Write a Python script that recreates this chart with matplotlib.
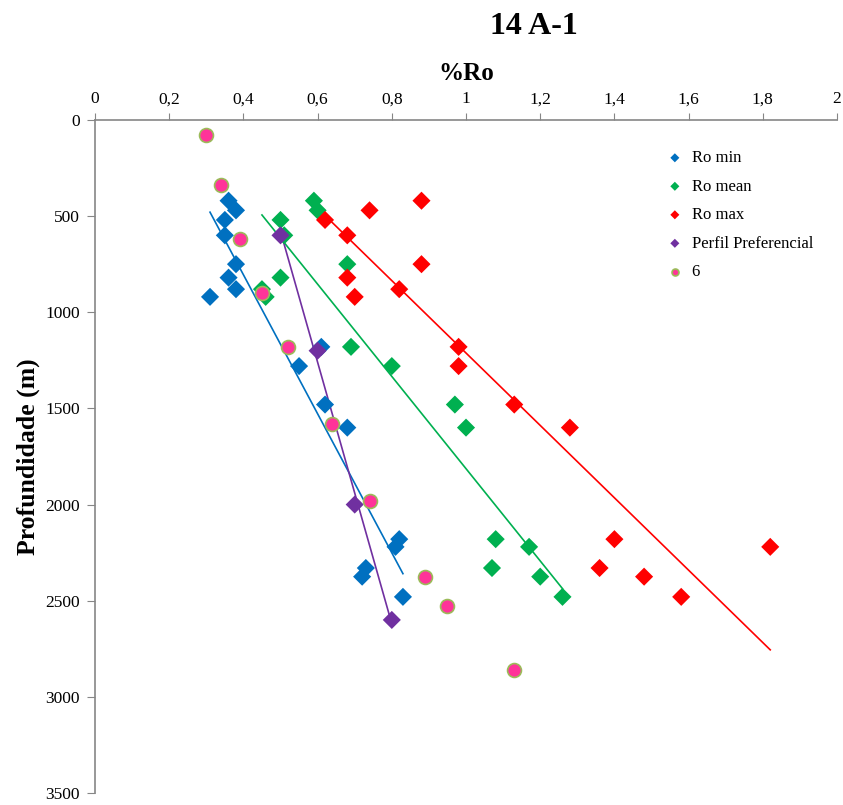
import numpy as np
import matplotlib
matplotlib.use("Agg")
import matplotlib.pyplot as plt

plt.rcParams['font.family'] = ['Liberation Serif', 'DejaVu Serif']

# profundidade (m) das amostras
prof = [420, 470, 520, 600, 750, 820, 880, 920, 1180, 1280,
        1480, 1600, 2180, 2220, 2330, 2375, 2480]
ro_min = [0.36, 0.38, 0.35, 0.35, 0.38, 0.36, 0.38, 0.31, 0.61, 0.55,
          0.62, 0.68, 0.82, 0.81, 0.73, 0.72, 0.83]
ro_mean = [0.59, 0.60, 0.50, 0.51, 0.68, 0.50, 0.45, 0.46, 0.69, 0.80,
           0.97, 1.00, 1.08, 1.17, 1.07, 1.20, 1.26]
ro_max = [0.88, 0.74, 0.62, 0.68, 0.88, 0.68, 0.82, 0.70, 0.98, 0.98,
          1.13, 1.28, 1.40, 1.82, 1.36, 1.48, 1.58]

# perfil preferencial
pref_ro = [0.50, 0.60, 0.70, 0.80]
pref_prof = [600, 1200, 2000, 2600]

# serie "6"
s6_ro = [0.30, 0.34, 0.39, 0.45, 0.52, 0.64, 0.74, 0.89, 0.95, 1.13]
s6_prof = [80, 340, 620, 900, 1180, 1580, 1980, 2375, 2525, 2860]

x_ticks = [0, 0.2, 0.4, 0.6, 0.8, 1, 1.2, 1.4, 1.6, 1.8, 2]
y_ticks = [0, 500, 1000, 1500, 2000, 2500, 3000, 3500]

fig = plt.figure(figsize=(8.43, 8.05), dpi=100)
ax = fig.add_axes([0.1127, 0.0149, 0.8802, 0.8361])

series = [
    ("Ro min", ro_min, prof, "#0070C0"),
    ("Ro mean", ro_mean, prof, "#00B050"),
    ("Ro max", ro_max, prof, "#FF0000"),
    ("Perfil Preferencial", pref_ro, pref_prof, "#7030A0"),
]

for label, xs, ys, cor in series:
    xs = np.array(xs)
    ys = np.array(ys)
    ax.scatter(xs, ys, marker="D", s=85, color=cor, edgecolor="none",
               label=label, zorder=3)
    # linha de tendencia linear (como no Excel)
    a, b = np.polyfit(xs, ys, 1)
    xl = np.array([xs.min(), xs.max()])
    ax.plot(xl, a * xl + b, color=cor, lw=1.2, zorder=2)

ax.scatter(s6_ro, s6_prof, marker="o", s=100, color="#FF3399",
           edgecolor="#9BBB59", linewidth=1.2, label="6", zorder=4)

ax.set_xlim(0, 2)
ax.set_ylim(3500, 0)
ax.set_xticks(x_ticks)
ax.set_xticklabels([f"{v:g}".replace(".", ",") for v in x_ticks])
ax.set_yticks(y_ticks)

ax.xaxis.tick_top()
ax.xaxis.set_label_position("top")
for side in ["right", "bottom"]:
    ax.spines[side].set_visible(False)
for side in ["top", "left"]:
    ax.spines[side].set_color("#868686")
    ax.spines[side].set_linewidth(1.2)
ax.tick_params(axis="x", direction="out", length=5, color="#868686",
               labelsize=12.5, pad=4)
ax.tick_params(axis="y", direction="out", length=6, color="#868686",
               labelsize=12.5, pad=5)

ax.set_xlabel("%Ro", fontsize=18, fontweight="bold", labelpad=8)
ax.set_ylabel("Profundidade (m)", fontsize=18.5, fontweight="bold", labelpad=4)
fig.text(0.633, 0.985, "14 A-1", ha="center", va="top",
         fontsize=23, fontweight="bold")

leg = ax.legend(loc="upper left", bbox_to_anchor=(0.75, 0.965), frameon=False,
                fontsize=12, handletextpad=0.0, labelspacing=0.75,
                markerscale=0.5, borderaxespad=0)

fig.savefig("out.png", dpi=100)
